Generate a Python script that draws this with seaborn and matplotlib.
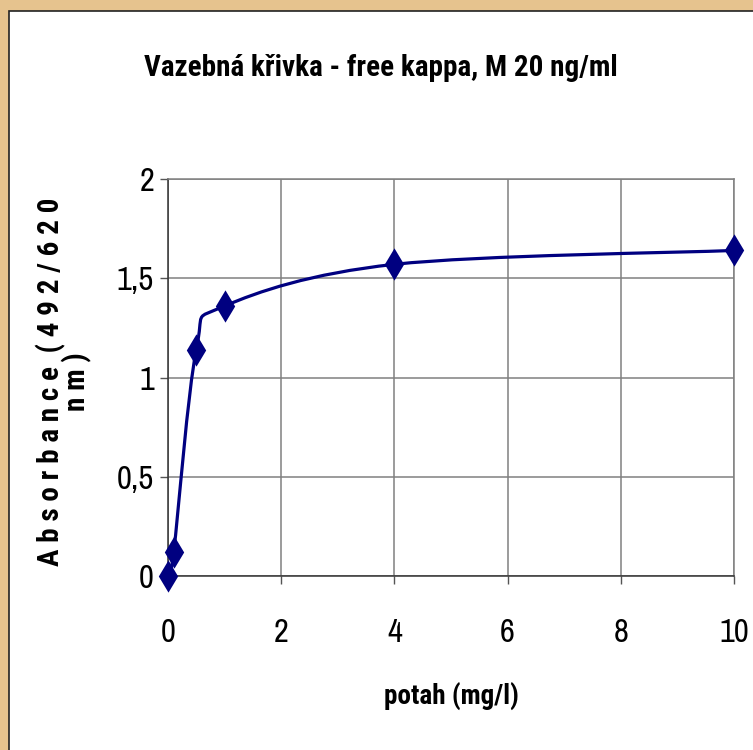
import numpy as np
import matplotlib
matplotlib.use('Agg')
import matplotlib.pyplot as plt
from matplotlib.path import Path
from matplotlib.patches import PathPatch, Rectangle
import seaborn as sns
import pandas as pd

# data
potah = [0, 0.1, 0.5, 1, 4, 10]
absorbance = [0, 0.12, 1.14, 1.36, 1.57, 1.64]
x_ticks = [0, 2, 4, 6, 8, 10]
y_ticks = [0, 0.5, 1, 1.5, 2]
y_tick_labels = ['0', '0,5', '1', '1,5', '2']

title = 'Vazebná křivka - free kappa, M 20 ng/ml'
xlabel = 'potah (mg/l)'
ylabel = 'A b s o r b a n c e  ( 4 9 2 / 6 2 0\nn m )'

LINE = '#000080'
FONTS = ['Liberation Sans Narrow', 'Archivo Narrow', 'Roboto Condensed',
         'Liberation Sans', 'DejaVu Sans']
BOLD_FONTS = ['Liberation Sans Narrow', 'Roboto Condensed', 'Liberation Sans',
              'DejaVu Sans']

sns.set_theme(style='white')
plt.rcParams['font.family'] = FONTS
plt.rcParams['text.color'] = 'black'


def smooth_path(xs, ys):
    # excel style smoothed line: bezier segments through the points
    pts = np.column_stack([xs, ys]).astype(float)
    n = len(pts)
    verts = [pts[0]]
    codes = [Path.MOVETO]
    for i in range(n - 1):
        p0 = pts[max(i - 1, 0)]
        p1 = pts[i]
        p2 = pts[i + 1]
        p3 = pts[min(i + 2, n - 1)]
        c1 = p1 + (p2 - p0) / 6.0
        c2 = p2 - (p3 - p1) / 6.0
        verts += [c1, c2, p2]
        codes += [Path.CURVE4] * 3
    return Path(verts, codes)


df = pd.DataFrame({'potah': potah, 'absorbance': absorbance})

fig = plt.figure(figsize=(7.53, 7.5), dpi=100)
fig.patch.set_facecolor('#E6C38E')
fig.patches.append(Rectangle((9 / 753, -0.01), 1, 1.01 - 11 / 750,
                             transform=fig.transFigure, facecolor='white',
                             edgecolor='#222222', linewidth=1.2, zorder=-10))

ax = fig.add_axes([168 / 753, 174 / 750, 566 / 753, 397 / 750])
ax.set_facecolor('white')

ax.add_patch(PathPatch(smooth_path(potah, absorbance), facecolor='none',
                       edgecolor=LINE, linewidth=2.3, zorder=3, clip_on=False))
sns.scatterplot(data=df, x='potah', y='absorbance', marker='d', s=270,
                color=LINE, edgecolor=LINE, linewidth=0, zorder=4, clip_on=False,
                ax=ax)

ax.set_xlim(0, 10)
ax.set_ylim(0, 2)
ax.set_xticks(x_ticks)
ax.set_yticks(y_ticks)
ax.set_yticklabels(y_tick_labels)
ax.grid(True, color='#808080', linewidth=1.1)
for side in ['top', 'right']:
    ax.spines[side].set_color('#808080')
for side in ['left', 'bottom']:
    ax.spines[side].set_color('#333333')
for s in ax.spines.values():
    s.set_linewidth(1.1)
ax.tick_params(axis='both', which='major', direction='out', length=6,
               width=1, color='#555555', labelsize=23.5, labelcolor='black')
ax.tick_params(axis='x', bottom=True, pad=24)
ax.tick_params(axis='y', left=True, pad=4)
ax.set_xlabel('')
ax.set_ylabel('')

fig.text(451 / 753, 1 - 697 / 750, xlabel, ha='center', va='center',
         fontsize=19.5, fontweight='bold', family=BOLD_FONTS)
fig.text(381 / 753, 1 - 68 / 750, title, ha='center', va='center',
         fontsize=21, fontweight='bold', family=BOLD_FONTS)
fig.text(64 / 753, 1 - 382 / 750, ylabel, ha='center', va='center',
         rotation=90, multialignment='center', linespacing=0.85,
         fontsize=21, fontweight='bold', family=BOLD_FONTS)

fig.savefig('out.png', dpi=100, facecolor=fig.get_facecolor())
